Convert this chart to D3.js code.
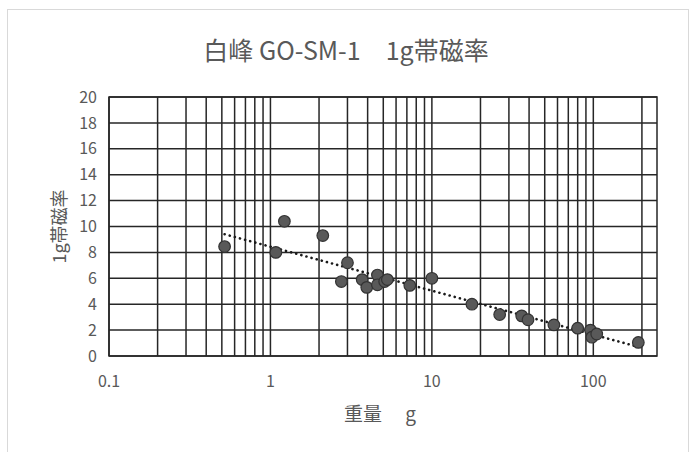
<!DOCTYPE html>
<html>
<head>
<meta charset="utf-8">
<script src="https://cdn.jsdelivr.net/npm/d3@7"></script>
<style>
  body { margin: 0; background: #fff; }
  text { font-family: "Noto Sans CJK JP", "Noto Sans", sans-serif; fill: #595959; }
</style>
</head>
<body>
<div id="chart"></div>
<script>
var width = 691, height = 452;

// weight (g) and 1g susceptibility
var weights = [0.52, 1.08, 1.22, 2.11, 2.75, 3.0, 3.7, 3.95, 4.6, 4.6, 5.1, 5.3,
               7.3, 10.0, 17.7, 26.3, 36, 39.4, 57, 80, 96, 98, 105, 190];
var values  = [8.45, 8.0, 10.4, 9.3, 5.75, 7.2, 5.9, 5.3, 6.25, 5.5, 5.75, 5.9,
               5.45, 6.0, 4.0, 3.2, 3.1, 2.8, 2.4, 2.15, 2.0, 1.45, 1.7, 1.05];
var yTicks = [0, 2, 4, 6, 8, 10, 12, 14, 16, 18, 20];
var xLabels = [0.1, 1, 10, 100];

var data = weights.map(function(w, i) { return {w: w, v: values[i]}; });

var margin = {left: 109, right: 691 - 657, top: 97, bottom: 452 - 356};
var x = d3.scaleLog().domain([0.1, 248]).range([margin.left, width - margin.right]);
var y = d3.scaleLinear().domain([0, 20]).range([height - margin.bottom, margin.top]);

var svg = d3.select("#chart").append("svg")
  .attr("width", width)
  .attr("height", height);

svg.append("rect")
  .attr("x", 7.5).attr("y", 9.5)
  .attr("width", 681).attr("height", 460)
  .attr("fill", "#fff")
  .attr("stroke", "#d9d9d9");

// vertical grid at every log minor step
var xGrid = [];
[0.1, 1, 10, 100].forEach(function(d) {
  for (var k = 1; k < 10; k++) {
    var v = d * k;
    if (v <= 248) xGrid.push(v);
  }
});

svg.append("g").selectAll("line.vx")
  .data(xGrid)
  .enter().append("line")
  .attr("x1", d => x(d)).attr("x2", d => x(d))
  .attr("y1", y(0)).attr("y2", y(20))
  .attr("stroke", "#262626")
  .attr("stroke-width", 1.5);

svg.append("g").selectAll("line.hy")
  .data(yTicks)
  .enter().append("line")
  .attr("x1", x(0.1)).attr("x2", x(248))
  .attr("y1", d => y(d)).attr("y2", d => y(d))
  .attr("stroke", "#262626")
  .attr("stroke-width", 1.5);

svg.append("rect")
  .attr("x", x(0.1)).attr("y", y(20))
  .attr("width", x(248) - x(0.1)).attr("height", y(0) - y(20))
  .attr("fill", "none")
  .attr("stroke", "#262626")
  .attr("stroke-width", 1.5);

// tick labels
svg.append("g").selectAll("text")
  .data(yTicks)
  .enter().append("text")
  .attr("x", 97)
  .attr("y", d => y(d))
  .attr("dy", "0.35em")
  .attr("text-anchor", "end")
  .style("font-size", "16px")
  .text(d => d);

svg.append("g").selectAll("text")
  .data(xLabels)
  .enter().append("text")
  .attr("x", d => x(d))
  .attr("y", 387)
  .attr("text-anchor", "middle")
  .style("font-size", "16px")
  .text(d => d);

// logarithmic trendline, least squares like Excel
var lx = data.map(d => Math.log(d.w));
var mx = d3.mean(lx), my = d3.mean(data, d => d.v);
var slope = d3.sum(data, (d, i) => (lx[i] - mx) * (d.v - my)) / d3.sum(lx, l => (l - mx) * (l - mx));
var icpt = my - slope * mx;
var ext = d3.extent(weights);

svg.append("line")
  .attr("x1", x(ext[0])).attr("y1", y(icpt + slope * Math.log(ext[0])))
  .attr("x2", x(ext[1])).attr("y2", y(icpt + slope * Math.log(ext[1])))
  .attr("stroke", "#1a1a1a")
  .attr("stroke-width", 2.6)
  .attr("stroke-linecap", "round")
  .attr("stroke-dasharray", "0.1,5.2");

svg.append("g").selectAll("circle")
  .data(data)
  .enter().append("circle")
  .attr("cx", d => x(d.w))
  .attr("cy", d => y(d.v))
  .attr("r", 5.8)
  .attr("fill", "#595959")
  .attr("stroke", "#333")
  .attr("stroke-width", 1.2);

// titles
svg.append("text")
  .attr("x", 346).attr("y", 60)
  .attr("text-anchor", "middle")
  .style("font-size", "25px")
  .text("白峰 GO-SM-1　1g帯磁率");

svg.append("text")
  .attr("x", 380).attr("y", 421)
  .attr("text-anchor", "middle")
  .style("font-size", "19px")
  .text("重量　 g");

svg.append("text")
  .attr("transform", "translate(66," + ((y(0) + y(20)) / 2) + ")rotate(-90)")
  .attr("text-anchor", "middle")
  .style("font-size", "18px")
  .text("1g帯磁率");
</script>
</body>
</html>
